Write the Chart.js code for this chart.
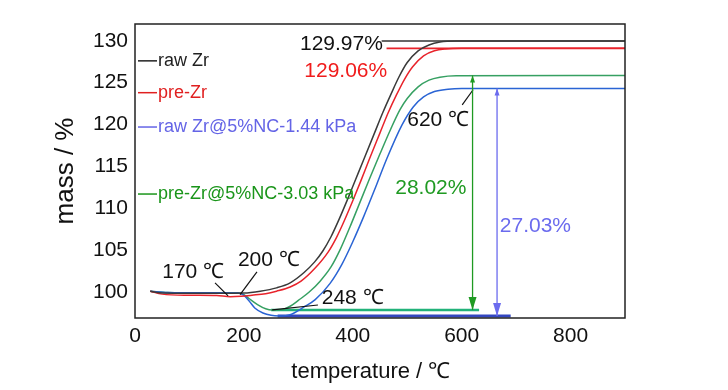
<!DOCTYPE html>
<html>
<head>
<meta charset="utf-8">
<script src="https://cdn.jsdelivr.net/npm/chart.js@4.4.0/dist/chart.umd.min.js"></script>
<style>
  html, body { margin: 0; padding: 0; background: #fff; }
</style>
</head>
<body>
<canvas id="tg" width="728" height="390"></canvas>
<script>
// TG curves: temperature (°C) vs mass (%)
const RAW_ZR_T = [28, 50, 100, 150, 200, 230, 260, 285, 310, 330, 345, 360, 375, 390, 405, 420, 440, 455, 470, 485, 500, 520, 540, 560, 590, 900];
const RAW_ZR_M = [100.1, 99.88, 99.85, 99.85, 99.88, 100.1, 100.5, 101.1, 102.3, 103.6, 104.9, 106.6, 108.7, 111.0, 113.4, 115.8, 119.0, 121.4, 123.6, 125.7, 127.4, 128.8, 129.5, 129.85, 129.97, 129.97];

const PRE_ZR_T = [28, 50, 100, 150, 175, 195, 215, 240, 260, 285, 305, 330, 355, 370, 385, 400, 415, 430, 450, 465, 480, 495, 510, 530, 550, 570, 600, 900];
const PRE_ZR_M = [100.1, 99.75, 99.62, 99.58, 99.45, 99.5, 99.62, 99.8, 100.1, 100.6, 101.3, 102.8, 104.8, 106.5, 108.6, 110.9, 113.3, 115.8, 119.0, 121.4, 123.5, 125.4, 126.9, 128.2, 128.8, 129.02, 129.1, 129.1];

const RAW_NC_T = [28, 60, 100, 150, 190, 200, 210, 220, 235, 250, 265, 285, 310, 331, 358, 380, 400, 420, 440, 463, 490, 511, 530, 550, 575, 600, 900];
const RAW_NC_M = [100.1, 99.95, 99.92, 99.9, 99.88, 99.6, 98.9, 98.1, 97.5, 97.22, 97.15, 97.3, 98.2, 99.1, 101.0, 103.3, 106.0, 109.0, 112.2, 116.0, 119.9, 122.1, 123.3, 123.95, 124.22, 124.3, 124.3];

const PRE_NC_T = [28, 60, 100, 150, 190, 200, 210, 225, 240, 252, 270, 285, 300, 320, 340, 360, 377, 395, 410, 430, 450, 470, 487, 500, 520, 540, 560, 590, 900];
const PRE_NC_M = [100.1, 99.95, 99.92, 99.9, 99.88, 99.7, 99.2, 98.5, 98.0, 97.85, 97.9, 98.3, 99.0, 100.0, 101.3, 103.0, 105.1, 107.8, 110.2, 113.4, 116.5, 119.5, 121.8, 123.1, 124.5, 125.3, 125.65, 125.82, 125.85];

// reference lines (plateaus and minima)
const TOP_BLACK_T = [453, 900], TOP_BLACK_M = [129.97, 129.97];
const TOP_RED_T = [462, 900], TOP_RED_M = [129.1, 129.1];
const MIN_GREEN_T = [250, 632], MIN_GREEN_M = [97.85, 97.85];
const MIN_BLUE_T = [262, 690], MIN_BLUE_M = [97.15, 97.15];

// double arrows: [temperature, upper mass, lower mass]
const ARROW_GREEN = [620, 125.85, 97.85];
const ARROW_BLUE = [665, 124.3, 97.15];

const X_TICKS = [0, 200, 400, 600, 800];
const Y_TICKS = [100, 105, 110, 115, 120, 125, 130];

const SERIES_NAMES = ['raw Zr', 'pre-Zr', 'raw Zr@5%NC-1.44 kPa', 'pre-Zr@5%NC-3.03 kPa'];
const LEGEND_M = [127.6, 123.8, 119.7, 111.7];

// text notes: [text, temperature, mass]
const NOTES = [
  ['129.97%', 303, 129.64],
  ['129.06%', 311, 126.4],
  ['620 \u2103', 500, 120.56],
  ['28.02%', 478, 112.44],
  ['27.03%', 670, 107.9],
  ['170 \u2103', 50, 102.4],
  ['200 \u2103', 189, 103.8],
  ['248 \u2103', 343, 99.3]
];
// leader lines: [t1, m1, t2, m2]
const LEADERS = [
  [147, 101.09, 171, 99.55],
  [224, 102.4, 193, 99.7],
  [336, 98.45, 252, 97.86],
  [601, 122.35, 621, 124.15]
];

const FONT = '"Liberation Sans", Arial, sans-serif';
const C_BLACK = '#3a3a3a', C_RED = '#e8232b', C_BLUE = '#2a64d4', C_GREEN = '#36a062';
const NOTE_COLORS = ['#111', '#f01c1c', '#111', '#1f9a22', '#6b6bee', '#111', '#111', '#111'];
const LEGEND_COLORS = ['#222', '#e02020', '#6464e6', '#1a951a'];

const pts = (ts, ms) => ts.map((t, i) => ({ x: t, y: ms[i] }));

const curve = (label, ts, ms, color) => ({
  label, data: pts(ts, ms), borderColor: color, borderWidth: 1.5,
  pointRadius: 0, cubicInterpolationMode: 'monotone', fill: false
});
const refLine = (ts, ms, color, w) => ({
  data: pts(ts, ms), borderColor: color, borderWidth: w, pointRadius: 0, fill: false
});

const notes = {
  id: 'notes',
  afterDatasetsDraw(chart) {
    const { ctx, chartArea: a, scales: { x, y } } = chart;
    const px = v => x.getPixelForValue(v);
    const py = v => y.getPixelForValue(v);
    ctx.save();

    // frame
    ctx.strokeStyle = '#222';
    ctx.lineWidth = 1.5;
    ctx.strokeRect(a.left, a.top, a.right - a.left, a.bottom - a.top);

    // in-plot legend
    ctx.font = '18px ' + FONT;
    ctx.textBaseline = 'middle';
    ctx.textAlign = 'left';
    SERIES_NAMES.forEach((name, i) => {
      const yy = py(LEGEND_M[i]);
      ctx.strokeStyle = LEGEND_COLORS[i];
      ctx.lineWidth = 1.5;
      ctx.beginPath();
      ctx.moveTo(a.left + 3, yy);
      ctx.lineTo(a.left + 22, yy);
      ctx.stroke();
      ctx.fillStyle = LEGEND_COLORS[i];
      ctx.fillText(name, a.left + 23, yy);
    });

    // notes
    ctx.font = '21px ' + FONT;
    NOTES.forEach(([txt, t, m], i) => {
      ctx.fillStyle = NOTE_COLORS[i];
      ctx.fillText(txt, px(t), py(m));
    });

    // leaders
    ctx.strokeStyle = '#111';
    ctx.lineWidth = 1.2;
    LEADERS.forEach(([t1, m1, t2, m2]) => {
      ctx.beginPath();
      ctx.moveTo(px(t1), py(m1));
      ctx.lineTo(px(t2), py(m2));
      ctx.stroke();
    });

    // double arrows
    const arrow = ([t, mTop, mBot], color) => {
      const xx = px(t), y1 = py(mTop), y2 = py(mBot);
      ctx.strokeStyle = color;
      ctx.fillStyle = color;
      ctx.lineWidth = 1.3;
      ctx.beginPath();
      ctx.moveTo(xx, y1);
      ctx.lineTo(xx, y2);
      ctx.stroke();
      ctx.beginPath();
      ctx.moveTo(xx, y2);
      ctx.lineTo(xx - 4, y2 - 13);
      ctx.lineTo(xx + 4, y2 - 13);
      ctx.closePath();
      ctx.fill();
      ctx.beginPath();
      ctx.moveTo(xx, y1);
      ctx.lineTo(xx - 2.5, y1 + 7);
      ctx.lineTo(xx + 2.5, y1 + 7);
      ctx.closePath();
      ctx.fill();
    };
    arrow(ARROW_GREEN, '#1f9a22');
    arrow(ARROW_BLUE, '#6b6bee');

    ctx.restore();
  }
};

new Chart(document.getElementById('tg'), {
  type: 'line',
  data: {
    datasets: [
      curve(SERIES_NAMES[0], RAW_ZR_T, RAW_ZR_M, C_BLACK),
      curve(SERIES_NAMES[1], PRE_ZR_T, PRE_ZR_M, C_RED),
      curve(SERIES_NAMES[2], RAW_NC_T, RAW_NC_M, C_BLUE),
      curve(SERIES_NAMES[3], PRE_NC_T, PRE_NC_M, C_GREEN),
      refLine(TOP_BLACK_T, TOP_BLACK_M, '#333', 1.5),
      refLine(TOP_RED_T, TOP_RED_M, '#e8232b', 1.8),
      refLine(MIN_GREEN_T, MIN_GREEN_M, '#22b27a', 2.5),
      refLine(MIN_BLUE_T, MIN_BLUE_M, '#3346c0', 3)
    ]
  },
  options: {
    responsive: false,
    animation: false,
    layout: { padding: { top: 24, right: 103, left: 0, bottom: 0 } },
    plugins: { legend: { display: false }, tooltip: { enabled: false } },
    scales: {
      x: {
        type: 'linear', min: 0, max: 900,
        grid: { display: false, drawTicks: false },
        border: { display: false },
        afterBuildTicks: s => { s.ticks = X_TICKS.map(v => ({ value: v })); },
        afterFit: s => { s.height = 72; },
        ticks: { padding: 6, color: '#111', maxRotation: 0, autoSkip: false, font: { family: FONT, size: 21 } },
        title: { display: true, text: 'temperature / \u2103   ', color: '#111', font: { family: FONT, size: 22 }, padding: { top: 0, bottom: 5 } }
      },
      y: {
        type: 'linear', min: 96.9, max: 132,
        grid: { display: false, drawTicks: false },
        border: { display: false },
        afterBuildTicks: s => { s.ticks = Y_TICKS.map(v => ({ value: v })); },
        afterFit: s => { s.width = 135; },
        ticks: { padding: 7, color: '#111', autoSkip: false, font: { family: FONT, size: 21 } },
        title: { display: true, text: 'mass / %', color: '#111', font: { family: FONT, size: 26 }, padding: { top: 50, bottom: 0 } }
      }
    }
  },
  plugins: [notes]
});
</script>
</body>
</html>
